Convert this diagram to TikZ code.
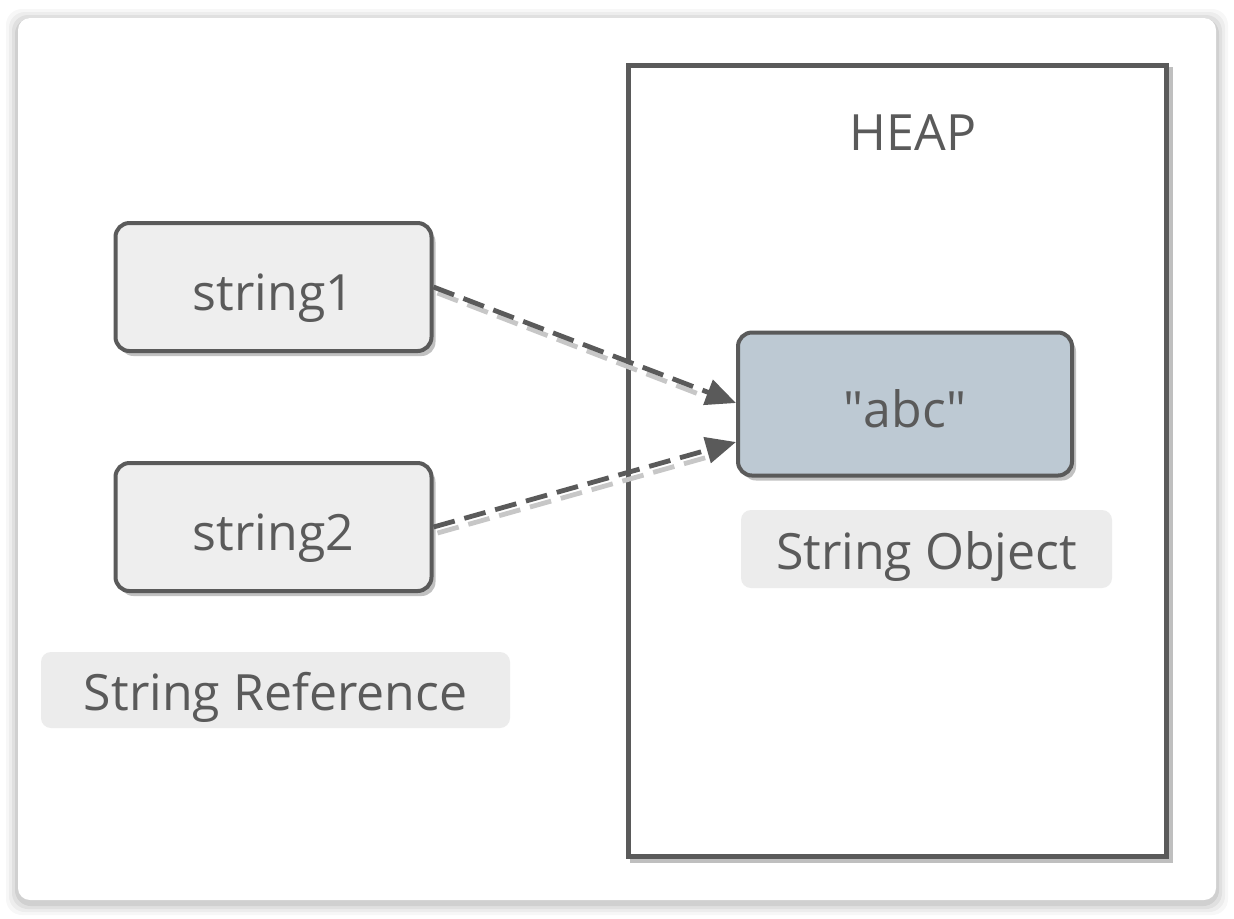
\documentclass[tikz,border=0pt]{standalone}
\usepackage{fontspec}
\setmainfont{Open Sans}
\usetikzlibrary{positioning,arrows.meta,shadows}
\definecolor{inkgray}{HTML}{5A5A5A}
\definecolor{boxgray}{HTML}{EEEEEE}
\definecolor{objblue}{HTML}{BDC9D3}
\definecolor{tagbg}{HTML}{ECECEC}
\tikzset{
    block/.style = {draw=inkgray, line width=2pt, fill=boxgray,
        rounded corners=7pt, text=inkgray,
        minimum width=158pt, minimum height=64pt,
        text height=26pt, text depth=3pt,
        font=\fontsize{25}{30}\selectfont,
        drop shadow={shadow xshift=2pt, shadow yshift=-2.5pt, fill=black!40, opacity=.6}},
    tag/.style = {fill=tagbg, rounded corners=5pt, text=inkgray,
        text height=24pt, text depth=3.5pt,
        font=\fontsize{25}{30}\selectfont},
    arrow/.style = {draw=inkgray, line width=2.4pt, dash pattern=on 11pt off 5pt,
        -{Triangle[length=15pt,width=13pt]}},
    arrowshade/.style = {draw=black!22, line width=2.4pt, dash pattern=on 11pt off 5pt,
        shorten >=16pt}
}

\begin{document}
\begin{tikzpicture}[x=0.5pt,y=-0.5pt]
    \useasboundingbox (0,0) rectangle (1234,918);
    \fill[white] (0,0) rectangle (1234,918);
    % card with soft shadow
    \foreach \d/\o in {12/0.03,9/0.04,6/0.05,3/0.07}
        \fill[black, opacity=\o, rounded corners=8pt] ({18-\d},{18-\d+3}) rectangle ({1216+\d},{900+\d+3});
    \fill[white, rounded corners=6pt] (18,18) rectangle (1216,900);

    % heap
    \draw[black!25, line width=2.5pt] (632,69) rectangle (1170,860);
    \node [draw=inkgray, line width=2.5pt, fill=white, minimum width=269pt, minimum height=395.5pt] (heap) at (897,460.5) {};
    \node [text=inkgray, font=\fontsize{25}{30}\selectfont] (heaptxt) at (913,133) {HEAP};

    % references
    \node [block] (str1) at (273.5,287) {string1};
    \node [block, below=54pt of str1] (str2) {string2};
    \node [tag, minimum width=234.5pt, minimum height=38pt] (reftag) at (275.5,690) {String Reference};

    % object
    \node [block, fill=objblue, minimum width=167pt, minimum height=71.5pt] (abc) at (905,404) {\textquotedbl abc\textquotedbl};
    \node [tag, minimum width=185.5pt, minimum height=39pt] (objtag) at (926.5,549) {String Object};

    \draw [arrowshade] ([xshift=2pt,yshift=-3pt]str1.east) -- ([xshift=2pt,yshift=-3pt]abc.west);
    \draw [arrowshade] ([xshift=2pt,yshift=-3pt]str2.east) -- ([xshift=2pt,yshift=-22pt]abc.west);
    \draw [arrow] (str1.east) -- ([yshift=0.5pt]abc.west);
    \draw [arrow] (str2.east) -- ([yshift=-19pt]abc.west);
\end{tikzpicture}
\end{document}
